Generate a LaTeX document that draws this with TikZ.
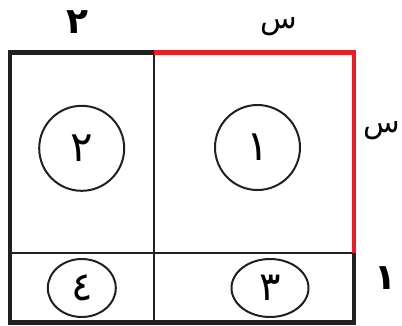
\documentclass[tikz,border=0pt]{standalone}
\usepackage{fontspec}
\usetikzlibrary{shapes.geometric}
\TeXXeTstate=1
\newfontfamily\arabicfont[Script=Arabic]{DejaVu Sans}
\definecolor{myred}{HTML}{ED1C24}
\definecolor{myblack}{HTML}{231F20}
\tikzset{
  outer/.style={line width=4.5pt, myblack},
  outerred/.style={line width=4.5pt, myred},
  inner/.style={line width=2pt, myblack},
  ring/.style={circle, draw=myblack, line width=2pt, minimum size=85pt, inner sep=0pt, font=\arabicfont\fontsize{42}{46}\selectfont},
  oval/.style={ellipse, draw=myblack, line width=2pt, minimum height=58pt, inner sep=0pt, font=\arabicfont\fontsize{40}{44}\selectfont},
  lab/.style={inner sep=0pt, font=\arabicfont\bfseries\fontsize{36}{40}\selectfont},
  seenlab/.style={inner sep=0pt, font=\arabicfont\fontsize{30}{34}\selectfont}
}
\begin{document}
\begin{tikzpicture}[x=1pt,y=-1pt]
\useasboundingbox (0,0) rectangle (402,325);
\coordinate (tl) at (10,52.5);
\coordinate (tm) at (153.5,52.5);
\coordinate (tr) at (354,52.5);
\coordinate (ml) at (10,252.7);
\coordinate (mr) at (354,252.7);
\coordinate (bl) at (10,322.5);
\coordinate (bm) at (153.5,322.5);
\coordinate (br) at (354,322.5);
% thin dividers
\draw[inner] (tm) -- (bm);
\draw[inner] (ml) -- (mr);
% outer frame
\draw[outer, line cap=rect] (tm) -- (tl) -- (bl) -- (br) -- (mr);
\draw[outerred] (tm) -- (tr) -- (mr);
\draw[outerred, line cap=rect] ([xshift=-0.1pt]tr) -- (tr);
% circles
\node[ring] (c2) at (81.7,148.3) {\beginR ٢\endR};
\node[ring] (c1) at (257.5,147.5) {\beginR ١\endR};
\node[oval, minimum width=68pt] (e4) at (81.8,288) {\beginR ٤\endR};
\node[oval, minimum width=77pt] (e3) at (270,288) {\beginR ٣\endR};
% outside labels
\node[lab] (t2) at (77,22) {\beginR ٢\endR};
\node[seenlab] (tx) at (279,27) {\beginR س\endR};
\node[seenlab] (rx) at (382,131) {\beginR س\endR};
\node[lab] (r1) at (385,278) {\beginR ١\endR};
\end{tikzpicture}
\end{document}
